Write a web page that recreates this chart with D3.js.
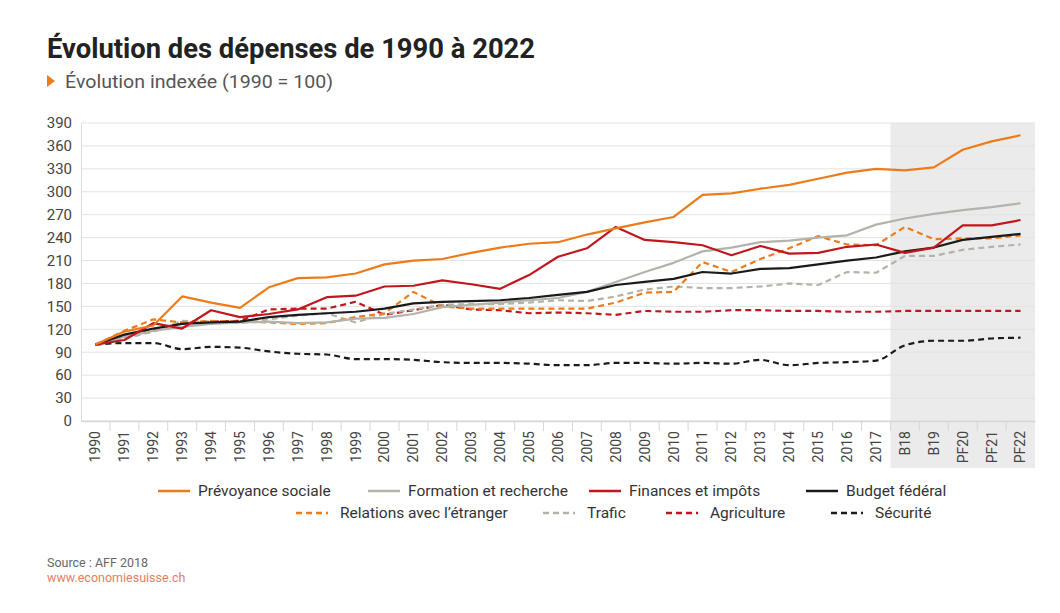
<!DOCTYPE html>
<html>
<head>
<meta charset="utf-8">
<script src="https://cdn.jsdelivr.net/npm/d3@7"></script>
<style>
  body { margin: 0; background: #fff; }
  text { font-family: Roboto, "Noto Sans", sans-serif; }
</style>
</head>
<body>
<script>
const WIDTH = 1060;
const HEIGHT = 613;

// categories
var years = ['1990', '1991', '1992', '1993', '1994', '1995', '1996', '1997', '1998', '1999',
    '2000', '2001', '2002', '2003', '2004', '2005', '2006', '2007', '2008', '2009',
    '2010', '2011', '2012', '2013', '2014', '2015', '2016', '2017',
    'B18', 'B19', 'PF20', 'PF21', 'PF22'];
var forecastStart = 'B18';
var yTicks = [0, 30, 60, 90, 120, 150, 180, 210, 240, 270, 300, 330, 360, 390];

// series values (index 1990 = 100)
var prevoyance = [100, 117, 125, 163, 155, 148, 175, 187, 188, 193, 205, 210, 212, 220, 227, 232, 234, 244, 252, 260, 267,
    296, 298, 304, 309, 317, 325, 330, 328, 332, 355, 366, 374];
var formation = [100, 110, 118, 123, 127, 129, 130, 128, 129, 134, 135, 140, 149, 152, 155, 158, 161, 169, 182, 195, 207,
    222, 227, 234, 236, 240, 243, 257, 265, 271, 276, 280, 285];
var finances = [100, 106, 128, 121, 145, 136, 140, 146, 162, 164, 176, 177, 184, 179, 173, 191, 215, 226, 254, 237, 234,
    230, 217, 229, 219, 220, 228, 231, 220, 227, 256, 256, 263];
var budget = [100, 113, 121, 127, 129, 130, 136, 139, 141, 143, 147, 154, 156, 157, 158, 161, 165, 169, 178, 182, 186,
    195, 193, 199, 200, 205, 210, 214, 222, 227, 237, 241, 245];
var relations = [100, 118, 133, 129, 131, 130, 129, 127, 128, 136, 141, 169, 150, 147, 147, 147, 147, 147, 155, 168, 169,
    208, 195, 212, 226, 242, 231, 230, 254, 238, 239, 239, 243];
var trafic = [100, 108, 117, 131, 130, 128, 133, 138, 141, 129, 140, 146, 152, 153, 153, 155, 158, 157, 163, 172, 176,
    174, 174, 176, 180, 178, 195, 194, 216, 216, 224, 228, 231];
var agriculture = [100, 110, 120, 128, 130, 131, 146, 147, 147, 156, 139, 145, 152, 146, 145, 141, 142, 141, 139, 144, 143,
    143, 145, 145, 144, 144, 143, 143, 144, 144, 144, 144, 144];
var securite = [100, 102, 102, 94, 97, 96, 91, 88, 87, 81, 81, 80, 77, 76, 76, 75, 73, 73, 76, 76, 75,
    76, 75, 80, 73, 76, 77, 79, 99, 105, 105, 108, 109];

var seriesNames = ['Prévoyance sociale', 'Formation et recherche', 'Finances et impôts', 'Budget fédéral',
    'Relations avec l\u2019étranger', 'Trafic', 'Agriculture', 'Sécurité'];
var seriesValues = [prevoyance, formation, finances, budget, relations, trafic, agriculture, securite];
var seriesColors = ['#ee7b1a', '#b3b3aa', '#c0171e', '#1a1a1a', '#ee7b1a', '#b3b3aa', '#c0171e', '#1a1a1a'];
var seriesDashed = [false, false, false, false, true, true, true, true];

// layout
var plot = { left: 81, right: 1035, top: 123, bottom: 421 };
var legendPos = [[158, 491], [368, 491], [589, 491], [806, 491],
    [296, 513], [543, 513], [666, 513], [831, 513]];

var svg = d3.select('body')
    .append('svg')
    .attr('width', WIDTH)
    .attr('height', HEIGHT);

var x = d3.scaleBand()
    .domain(years)
    .range([plot.left, plot.right]);

var y = d3.scaleLinear()
    .domain([0, 390])
    .range([plot.bottom, plot.top]);

// forecast shading
svg.append('rect')
    .attr('x', x(forecastStart))
    .attr('y', plot.top)
    .attr('width', plot.right - x(forecastStart))
    .attr('height', 468 - plot.top)
    .attr('fill', '#ebebeb');

// title
svg.append('text')
    .attr('x', 47)
    .attr('y', 58)
    .attr('font-size', 27)
    .attr('font-weight', 'bold')
    .attr('fill', '#222')
    .attr('textLength', 488)
    .attr('lengthAdjust', 'spacingAndGlyphs')
    .text('Évolution des dépenses de 1990 à 2022');

svg.append('path')
    .attr('d', 'M47,75 L55,81 L47,87 Z')
    .attr('fill', '#ee7b1a');

svg.append('text')
    .attr('x', 65)
    .attr('y', 88)
    .attr('font-size', 18)
    .attr('fill', '#555')
    .attr('textLength', 268)
    .attr('lengthAdjust', 'spacingAndGlyphs')
    .text('Évolution indexée (1990 = 100)');

// grid
svg.append('g')
    .selectAll('line')
    .data(yTicks)
    .enter()
    .append('line')
    .attr('x1', plot.left)
    .attr('x2', plot.right)
    .attr('y1', function(d) { return y(d); })
    .attr('y2', function(d) { return y(d); })
    .attr('stroke', '#e3e3e3')
    .attr('stroke-width', 1);

// y axis
var yAxis = svg.append('g')
    .attr('transform', 'translate(' + plot.left + ',0)')
    .call(d3.axisLeft(y).tickValues(yTicks).tickSize(0).tickPadding(9));
yAxis.select('.domain').attr('stroke', '#dcdcdc');
yAxis.selectAll('text')
    .attr('font-size', 15)
    .attr('fill', '#444')
    .attr('font-family', 'Roboto, sans-serif');

// x axis
var xAxis = svg.append('g')
    .attr('transform', 'translate(0,' + plot.bottom + ')')
    .call(d3.axisBottom(x).tickSize(0));
xAxis.select('.domain').attr('stroke', '#d6d6d6').attr('stroke-width', 1.5);
xAxis.selectAll('.tick text')
    .attr('font-size', 14)
    .attr('fill', '#444')
    .attr('font-family', 'Roboto, sans-serif')
    .attr('text-anchor', 'end')
    .attr('transform', 'rotate(-90)')
    .attr('x', -10)
    .attr('y', 0)
    .attr('dy', '0.35em');

// tick marks between categories
svg.append('g')
    .selectAll('line')
    .data(years.slice(1))
    .enter()
    .append('line')
    .attr('x1', function(d) { return x(d); })
    .attr('x2', function(d) { return x(d); })
    .attr('y1', plot.bottom)
    .attr('y2', plot.bottom + 10)
    .attr('stroke', '#d6d6d6')
    .attr('stroke-width', 1);

// lines
var line = d3.line()
    .x(function(d, i) { return x(years[i]) + x.bandwidth() / 2; })
    .y(function(d) { return y(d); });

var order = [7, 6, 5, 4, 1, 3, 2, 0];
svg.append('g')
    .selectAll('path')
    .data(order)
    .enter()
    .append('path')
    .attr('d', function(k) {
        return line.curve(k === 7 ? d3.curveMonotoneX : d3.curveLinear)(seriesValues[k]);
    })
    .attr('fill', 'none')
    .attr('stroke', function(k) { return seriesColors[k]; })
    .attr('stroke-width', 2.2)
    .attr('stroke-linejoin', 'round')
    .attr('stroke-dasharray', function(k) { return seriesDashed[k] ? '6,4' : null; });

// legend
var legend = svg.append('g')
    .selectAll('g')
    .data(seriesNames)
    .enter()
    .append('g')
    .attr('transform', function(d, i) {
        return 'translate(' + legendPos[i][0] + ',' + legendPos[i][1] + ')';
    });

legend.append('line')
    .attr('x1', 0)
    .attr('x2', 32)
    .attr('y1', 0)
    .attr('y2', 0)
    .attr('stroke', function(d, i) { return seriesColors[i]; })
    .attr('stroke-width', 2.5)
    .attr('stroke-dasharray', function(d, i) { return seriesDashed[i] ? '6,4' : null; });

legend.append('text')
    .attr('x', function(d, i) { return seriesDashed[i] ? 44 : 40; })
    .attr('y', 0)
    .attr('dy', '0.35em')
    .attr('font-size', 15.5)
    .attr('fill', '#333')
    .text(function(d) { return d; });

// footer
svg.append('text')
    .attr('x', 47)
    .attr('y', 567)
    .attr('font-size', 12.5)
    .attr('fill', '#666')
    .text('Source : AFF 2018');

svg.append('text')
    .attr('x', 47)
    .attr('y', 582)
    .attr('font-size', 12.5)
    .attr('fill', '#e4805f')
    .text('www.economiesuisse.ch');
</script>
</body>
</html>
